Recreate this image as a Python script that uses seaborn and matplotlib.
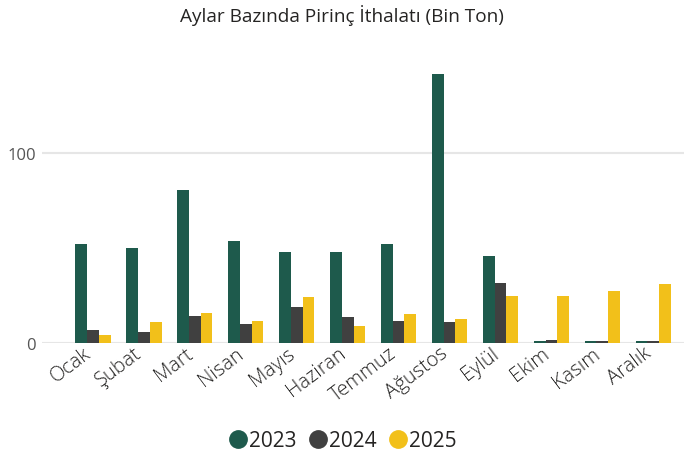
import matplotlib
matplotlib.use("Agg")
import matplotlib.pyplot as plt
import matplotlib.transforms as mtrans
import seaborn as sns
import pandas as pd
from matplotlib.lines import Line2D

months = ["Ocak", "Şubat", "Mart", "Nisan", "Mayıs", "Haziran", "Temmuz",
          "Ağustos", "Eylül", "Ekim", "Kasım", "Aralık"]
years = ["2023", "2024", "2025"]
v2023 = [52.3, 50.2, 80.7, 53.9, 48.1, 48.1, 52.1, 141.6, 45.8, 1.0, 1.0, 1.0]
v2024 = [7.0, 5.9, 14.4, 10.2, 19.1, 13.9, 11.6, 11.1, 31.6, 1.6, 1.0, 1.0]
v2025 = [4.4, 11.2, 16.0, 11.8, 24.4, 9.2, 15.3, 12.7, 24.7, 24.7, 27.4, 31.1]
colors = ["#1E5A4C", "#404040", "#F2C01A"]
title = "Aylar Bazında Pirinç İthalatı (Bin Ton)"

df = pd.DataFrame({
    "Ay": months * 3,
    "Yıl": [y for y in years for _ in months],
    "Değer": v2023 + v2024 + v2025,
})

sns.set_theme(style="white")
plt.rcParams["font.family"] = ["Open Sans", "DejaVu Sans"]

fig = plt.figure(figsize=(6.84, 4.56), dpi=100)
ax = fig.add_axes([0.061, 0.2456, 0.939, 0.6044])

sns.barplot(data=df, x="Ay", y="Değer", hue="Yıl", order=months,
            hue_order=years, palette=colors, width=0.7, gap=0,
            ax=ax, legend=False, saturation=1, linewidth=0, edgecolor="none")

ax.set_xlim(-1.0, 11.6)
ax.set_ylim(0, 145)
ax.set_yticks([0, 100])
ax.yaxis.grid(True, color="#E6E6E6", linewidth=1.5)
ax.set_axisbelow(True)
for s in ax.spines.values():
    s.set_visible(False)
ax.set_xlabel("")
ax.set_ylabel("")
ax.tick_params(axis="y", labelsize=12, colors="#555555", length=0, pad=4)
ax.tick_params(axis="x", labelsize=14.5, colors="#252423", length=0, pad=0)
offset = mtrans.ScaledTranslation(-0.10, 0, fig.dpi_scale_trans)
for lab in ax.get_xticklabels():
    lab.set_rotation(37)
    lab.set_ha("right")
    lab.set_rotation_mode("anchor")
    lab.set_fontweight("light")
    lab.set_transform(lab.get_transform() + offset)

fig.text(0.5, 1 - 16 / 456, title, ha="center", va="center",
         fontsize=13.7, color="#252423")

handles = [Line2D([0], [0], marker="o", linestyle="", markersize=12.5,
                  markerfacecolor=c, markeredgecolor=c) for c in colors]
fig.legend(handles, years, loc="center", bbox_to_anchor=(0.5, 1 - 442 / 456),
           ncol=3, frameon=False, fontsize=15, handlelength=1.0,
           handletextpad=0.05, columnspacing=0.5, labelcolor="#252423")

fig.savefig("out.png", dpi=100)
